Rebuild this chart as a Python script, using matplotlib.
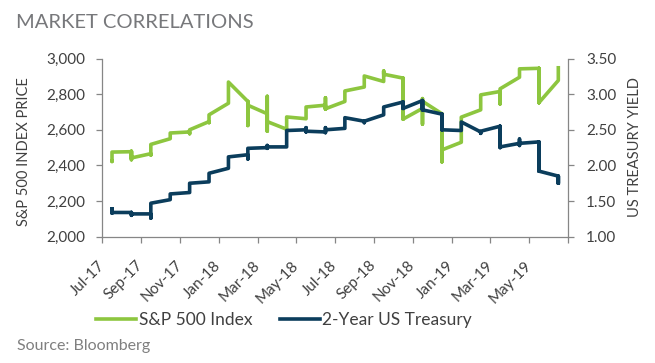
import matplotlib
matplotlib.use("Agg")
import matplotlib.pyplot as plt
from matplotlib.transforms import ScaledTranslation
import numpy as np

plt.rcParams['font.family'] = ['Lato', 'DejaVu Sans']

# monthly categories (Excel date axis, base unit = months)
months = ['Jul-17', 'Aug-17', 'Sep-17', 'Oct-17', 'Nov-17', 'Dec-17',
          'Jan-18', 'Feb-18', 'Mar-18', 'Apr-18', 'May-18', 'Jun-18',
          'Jul-18', 'Aug-18', 'Sep-18', 'Oct-18', 'Nov-18', 'Dec-18',
          'Jan-19', 'Feb-19', 'Mar-19', 'Apr-19', 'May-19', 'Jun-19']

# S&P 500: first / low / high / last value plotted in each month
sp_first = [2425, 2477, 2466, 2550, 2588, 2646, 2749, 2759, 2690, 2603, 2662, 2738,
            2759, 2840, 2871, 2890, 2720, 2690, 2530, 2712, 2815, 2895, 2945, 2877]
sp_low = [2422, 2432, 2458, 2550, 2578, 2640, 2749, 2624, 2592, 2600, 2662, 2716,
          2759, 2840, 2871, 2660, 2632, 2420, 2530, 2712, 2745, 2895, 2752, 2877]
sp_high = [2475, 2480, 2518, 2582, 2600, 2684, 2868, 2759, 2788, 2672, 2728, 2780,
           2818, 2902, 2930, 2890, 2775, 2690, 2671, 2796, 2830, 2942, 2945, 2948]
sp_last = [2475, 2442, 2518, 2582, 2600, 2684, 2868, 2738, 2646, 2672, 2728, 2718,
           2818, 2902, 2912, 2660, 2760, 2487, 2671, 2796, 2830, 2942, 2752, 2948]

# 2-year treasury yield: first / low / high / last in each month
ust_first = [1.39, 1.34, 1.32, 1.52, 1.62, 1.77, 1.96, 2.15, 2.25, 2.26, 2.50, 2.47,
             2.52, 2.62, 2.71, 2.89, 2.91, 2.72, 2.49, 2.47, 2.55, 2.31, 2.33, 1.85]
ust_low = [1.33, 1.30, 1.26, 1.52, 1.62, 1.77, 1.96, 2.09, 2.24, 2.26, 2.47, 2.46,
           2.52, 2.60, 2.71, 2.80, 2.78, 2.50, 2.49, 2.45, 2.25, 2.28, 1.92, 1.75]
ust_high = [1.39, 1.34, 1.47, 1.60, 1.75, 1.89, 2.12, 2.24, 2.28, 2.49, 2.53, 2.53,
            2.67, 2.62, 2.82, 2.89, 2.91, 2.72, 2.61, 2.48, 2.55, 2.37, 2.33, 1.85]
ust_last = [1.34, 1.32, 1.47, 1.60, 1.75, 1.89, 2.12, 2.24, 2.26, 2.49, 2.48, 2.50,
            2.67, 2.62, 2.82, 2.80, 2.78, 2.50, 2.61, 2.48, 2.26, 2.31, 1.92, 1.76]

green = '#8dc63f'
navy = '#0b3d5c'
axis_grey = '#868686'
text_grey = '#404040'

# all points of a month share one x position (middle of the month slot)
xs = np.repeat(np.arange(len(months)) + 0.5, 4)
sp_y = np.column_stack([sp_first, sp_low, sp_high, sp_last]).ravel()
ust_y = np.column_stack([ust_first, ust_low, ust_high, ust_last]).ravel()

fig = plt.figure(figsize=(6.55, 3.63), dpi=100)
ax = fig.add_axes([0.1562, 0.3479, 0.711, 0.4909])
ax2 = ax.twinx()

ax.plot(xs, sp_y, color=green, lw=2.6, solid_joinstyle='round', label='S&P 500 Index')
ax2.plot(xs, ust_y, color=navy, lw=2.6, solid_joinstyle='round', label='2-Year US Treasury')

ax.set_xlim(0, len(months))
ax.set_ylim(2000, 3000)
ax2.set_ylim(1.0, 3.5)

ax.set_yticks(np.arange(2000, 3001, 200))
ax.set_yticklabels([f'{v:,}' for v in range(2000, 3001, 200)])
ax2.set_yticks(np.arange(1.0, 3.51, 0.5))
ax2.set_yticklabels([f'{v:.2f}' for v in np.arange(1.0, 3.51, 0.5)])

xt = np.arange(0, len(months) + 1, 2)
ax.set_xticks(xt)
ax.set_xticklabels(months[0::2] + [''], rotation=45, ha='right', va='center',
                   rotation_mode='anchor')
for lbl in ax.get_xticklabels():
    lbl.set_transform(lbl.get_transform() + ScaledTranslation(0.13, 0, fig.dpi_scale_trans))

for a in (ax, ax2):
    for s in a.spines.values():
        s.set_color(axis_grey)
        s.set_linewidth(0.9)
    a.spines['top'].set_visible(False)
ax.spines['right'].set_visible(False)
ax2.spines['left'].set_visible(False)
ax2.spines['bottom'].set_visible(False)

ax.tick_params(axis='x', direction='out', length=4, width=0.9, color=axis_grey,
               pad=15, labelsize=11, labelcolor=text_grey)
ax.tick_params(axis='y', direction='out', length=4, width=0.9, color=axis_grey,
               pad=8, labelsize=11, labelcolor=text_grey)
ax2.tick_params(axis='y', direction='out', length=4, width=0.9, color=axis_grey,
                pad=9, labelsize=11, labelcolor=text_grey)

fig.text(24 / 655, 1 - 152 / 363, 'S&P 500 INDEX PRICE', rotation=90,
         ha='center', va='center', fontsize=10.5, color=text_grey)
fig.text(635 / 655, 1 - 147 / 363, 'US TREASURY YIELD', rotation=90,
         ha='center', va='center', fontsize=10.5, color=text_grey)

fig.text(16 / 655, 1 - 22 / 363, 'MARKET CORRELATIONS', ha='left', va='center',
         fontsize=14.5, color='#77787b')
fig.text(17 / 655, 1 - 346 / 363, 'Source: Bloomberg', ha='left', va='center',
         fontsize=11.5, color='#7f7f7f')

h1, l1 = ax.get_legend_handles_labels()
h2, l2 = ax2.get_legend_handles_labels()
fig.legend(h1 + h2, l1 + l2, loc='center left', bbox_to_anchor=(96 / 655, 1 - 320 / 363),
           ncol=2, frameon=False, fontsize=12.5, handlelength=2.3, handletextpad=0.15,
           columnspacing=1.6, borderpad=0, borderaxespad=0, labelcolor=text_grey)

fig.savefig('out.png', dpi=100)
